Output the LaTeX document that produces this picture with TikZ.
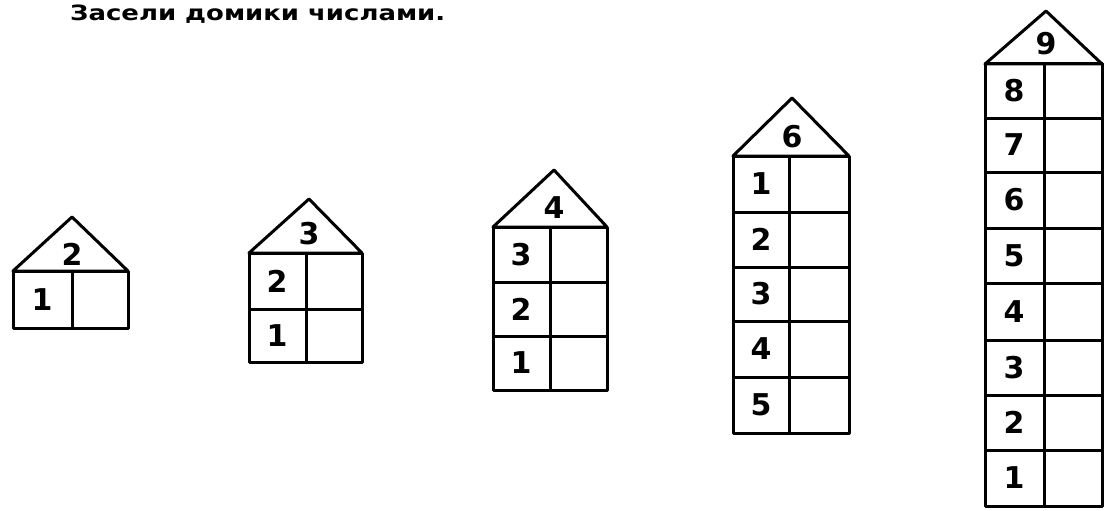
\documentclass[tikz,border=0pt]{standalone}
\usepackage{fontspec}
\setmainfont{DejaVu Sans}
\begin{document}
\begin{tikzpicture}[x=1pt,y=-1pt,line join=round,
  wall/.style={draw=black,line width=3pt},
  digit/.style={font=\fontsize{30}{30}\selectfont\bfseries,inner sep=0pt},
  title/.style={font=\fontsize{21}{24}\selectfont\bfseries,anchor=base west,inner sep=0pt}]
\useasboundingbox (0,0) rectangle (1105,511);
\node[title] (t) at (70,21) {\resizebox{375pt}{!}{\scalebox{1}[0.81]{Засели домики числами.}}};
% house 1
\draw[wall] (13,271) -- (72,217) -- (128,271) -- cycle;
\draw[wall] (13,271) rectangle (128,328);
\draw[wall] (72,271) -- (72,328);
\node[digit] (h1r) at (72,254) {2};
\node[digit] (h1a) at (42,300) {1};
% house 2
\draw[wall] (249,253) -- (309,199) -- (362,253) -- cycle;
\draw[wall] (249,253) rectangle (362,362);
\draw[wall] (249,309) -- (362,309);
\draw[wall] (306,253) -- (306,362);
\node[digit] (h2r) at (309,234) {3};
\foreach \y/\n in {281/2,335.5/1} \node[digit] (h2d\n) at (277,\y) {\n};
% house 3
\draw[wall] (493,227) -- (554,170) -- (607,227) -- cycle;
\draw[wall] (493,227) rectangle (607,390);
\foreach \y in {282,336} \draw[wall] (493,\y) -- (607,\y);
\draw[wall] (550,227) -- (550,390);
\node[digit] (h3r) at (554,208) {4};
\foreach \y/\n in {254.5/3,309/2,363/1} \node[digit] (h3d\n) at (521,\y) {\n};
% house 4
\draw[wall] (733,156) -- (792,98) -- (849,156) -- cycle;
\draw[wall] (733,156) rectangle (849,433);
\foreach \y in {212,267,321,377} \draw[wall] (733,\y) -- (849,\y);
\draw[wall] (789,156) -- (789,433);
\node[digit] (h4r) at (792,137) {6};
\foreach \y/\n in {184/1,239.5/2,294/3,349/4,405/5} \node[digit] (h4d\n) at (761,\y) {\n};
% house 5
\draw[wall] (985,64) -- (1046,11) -- (1102,64) -- cycle;
\draw[wall] (985,64) rectangle (1102,506);
\foreach \y in {118,172,228,283,340,395,450} \draw[wall] (985,\y) -- (1102,\y);
\draw[wall] (1044,64) -- (1044,506);
\node[digit] (h5r) at (1046,44) {9};
\foreach \y/\n in {91/8,145/7,200/6,255.5/5,311.5/4,367.5/3,422.5/2,478/1} \node[digit] (h5d\n) at (1014,\y) {\n};
\end{tikzpicture}
\end{document}
